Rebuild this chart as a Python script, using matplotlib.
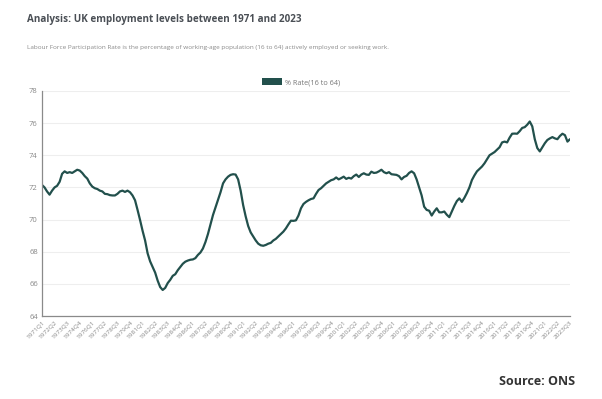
import matplotlib
matplotlib.use("Agg")
import matplotlib.pyplot as plt
from matplotlib.patches import Patch

years = list(range(1971, 2024))
quarters = []
for y in years:
    for q in range(1, 5):
        quarters.append(f"{y}Q{q}")
quarters = quarters[:quarters.index("2023Q3") + 1]

rate = [
    72.15, 72.0, 71.75, 71.55, 71.8, 72.0, 72.1, 72.35, 72.85, 73.0,
    72.9, 72.95, 72.9, 73.0, 73.1, 73.05, 72.9, 72.7, 72.55, 72.25,
    72.05, 71.95, 71.9, 71.8, 71.75, 71.6, 71.58, 71.52, 71.5, 71.5,
    71.6, 71.75, 71.8, 71.72, 71.8, 71.7, 71.5, 71.2, 70.6, 69.97,
    69.3, 68.7, 67.9, 67.4, 67.05, 66.7, 66.2, 65.8, 65.62, 65.75,
    66.05, 66.25, 66.5, 66.6, 66.85, 67.05, 67.25, 67.38, 67.45, 67.5,
    67.52, 67.6, 67.8, 67.95, 68.2, 68.6, 69.1, 69.7, 70.28, 70.75,
    71.2, 71.7, 72.25, 72.5, 72.67, 72.78, 72.82, 72.8, 72.5, 71.8,
    70.9, 70.2, 69.6, 69.2, 68.95, 68.7, 68.5, 68.4, 68.37, 68.42,
    68.5, 68.55, 68.7, 68.8, 68.95, 69.1, 69.25, 69.45, 69.7, 69.93,
    69.92, 69.95, 70.25, 70.7, 70.97, 71.1, 71.2, 71.28, 71.32, 71.6,
    71.84, 71.95, 72.1, 72.25, 72.35, 72.45, 72.5, 72.62, 72.5, 72.58,
    72.67, 72.53, 72.6, 72.55, 72.7, 72.8, 72.65, 72.8, 72.88, 72.8,
    72.78, 72.98, 72.9, 72.92, 73.0, 73.1, 72.95, 72.88, 72.95, 72.82,
    72.8, 72.78, 72.7, 72.5, 72.65, 72.72, 72.9, 73.0, 72.88, 72.5,
    72.0, 71.5, 70.8, 70.6, 70.55, 70.25, 70.5, 70.7, 70.45, 70.45,
    70.5, 70.3, 70.15, 70.5, 70.85, 71.15, 71.32, 71.1, 71.35, 71.65,
    72.0, 72.46, 72.75, 73.0, 73.15, 73.3, 73.5, 73.75, 74.0, 74.1,
    74.2, 74.35, 74.5, 74.8, 74.85, 74.8, 75.1, 75.34, 75.35, 75.34,
    75.5, 75.7, 75.75, 75.9, 76.1, 75.8, 75.0, 74.45, 74.24, 74.5,
    74.75, 74.95, 75.05, 75.13, 75.05, 75.0, 75.2, 75.34, 75.25, 74.85,
    75.0,
]

yticks = [64, 66, 68, 70, 72, 74, 76, 78]
series_label = "% Rate(16 to 64)"
title = "Analysis: UK employment levels between 1971 and 2023"
subtitle = "Labour Force Participation Rate is the percentage of working-age population (16 to 64) actively employed or seeking work."
source = "Source: ONS"

line_color = "#22504c"
fam = ["Open Sans", "DejaVu Sans"]

fig = plt.figure(figsize=(6.02, 3.99), dpi=100)
ax = fig.add_axes([0.0698, 0.208, 0.877, 0.564])
x = list(range(len(quarters)))
ax.plot(x, rate, color=line_color, linewidth=1.6, solid_capstyle="round")

ax.set_xlim(0, len(quarters) - 1)
ax.set_ylim(64, 78)
ax.set_yticks(yticks)
ax.set_yticklabels([str(v) for v in yticks], fontsize=5.5, color="#888888", family=fam)
tick_idx = x[::5]
ax.set_xticks(tick_idx)
ax.set_xticklabels([quarters[i] for i in tick_idx], rotation=45, ha="right",
                   rotation_mode="anchor", fontsize=4.6, color="#888888", family=fam)
ax.tick_params(axis="both", length=0, pad=3)
ax.grid(axis="y", color="#eeeeee", linewidth=0.8)
ax.set_axisbelow(True)
for s in ["top", "right"]:
    ax.spines[s].set_visible(False)
for s in ["left", "bottom"]:
    ax.spines[s].set_color("#8a8a8a")
    ax.spines[s].set_linewidth(0.9)

leg = fig.legend(handles=[Patch(facecolor=line_color, label=series_label)],
                 loc="center", bbox_to_anchor=(0.5, 0.794), frameon=False,
                 prop={"family": fam, "size": 5.2}, handlelength=2.8, handleheight=1.0,
                 handletextpad=0.3)
for t in leg.get_texts():
    t.set_color("#777777")

fig.text(0.045, 0.950, title, fontsize=7.1, fontweight="bold", color="#4a4f55",
         family=fam, ha="left", va="center")
fig.text(0.045, 0.882, subtitle, fontsize=4.6, color="#8a8a8a", family=fam,
         ha="left", va="center")
fig.text(0.955, 0.045, source, fontsize=9.0, fontweight="bold", color="#333333",
         family=fam, ha="right", va="center")

fig.savefig("out.png", dpi=100)
